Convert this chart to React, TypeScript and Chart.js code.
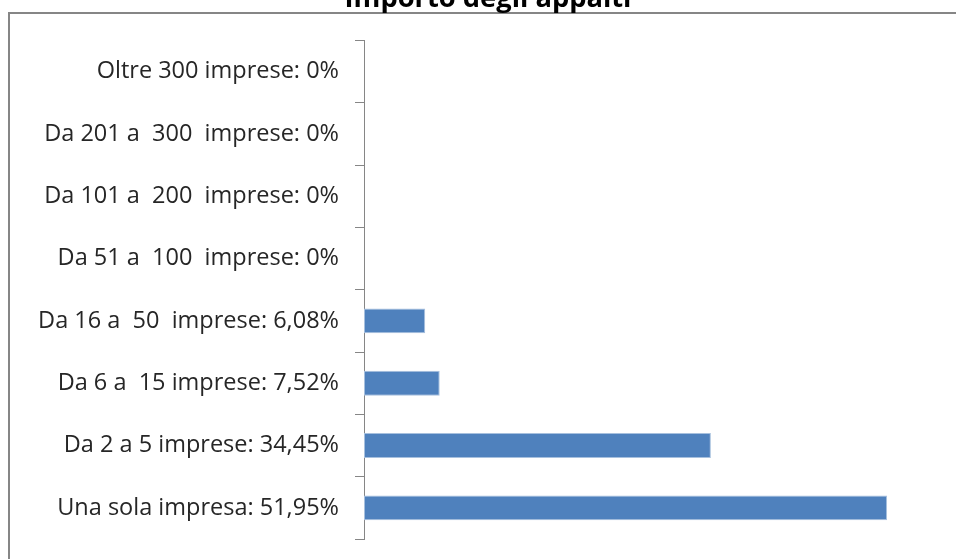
import React, { useEffect, useRef } from "react";
import { Chart, registerables } from "chart.js";

Chart.register(...registerables);

const TITLE = "Importo degli appalti";
const CATEGORIES = [
  "Oltre 300 imprese: 0%",
  "Da 201 a  300  imprese: 0%",
  "Da 101 a  200  imprese: 0%",
  "Da 51 a  100  imprese: 0%",
  "Da 16 a  50  imprese: 6,08%",
  "Da 6 a  15 imprese: 7,52%",
  "Da 2 a 5 imprese: 34,45%",
  "Una sola impresa: 51,95%",
];
const VALUES = [0, 0, 0, 0, 6.08, 7.52, 34.45, 51.95];

const FONT = "'Open Sans', sans-serif";

const framePlugin = {
  id: "frameAndTitle",
  beforeDraw(chart: any) {
    const ctx = chart.ctx;
    ctx.save();
    ctx.fillStyle = "#ffffff";
    ctx.fillRect(0, 0, chart.width, chart.height);
    ctx.strokeStyle = "#868686";
    ctx.lineWidth = 2;
    ctx.strokeRect(9, 13, chart.width + 20, chart.height + 20);
    ctx.restore();
  },
  afterDraw(chart: any) {
    const ctx = chart.ctx;
    ctx.save();
    ctx.fillStyle = "#000000";
    ctx.font = `bold 27.3px ${FONT}`;
    ctx.textAlign = "center";
    ctx.textBaseline = "alphabetic";
    ctx.fillText(TITLE, 488, 7);
    ctx.restore();
  },
};

export default function App() {
  const ref = useRef<HTMLCanvasElement>(null);
  useEffect(() => {
    if (!ref.current) return;
    const chart = new Chart(ref.current, {
      type: "bar",
      data: {
        labels: CATEGORIES,
        datasets: [
          {
            data: VALUES,
            backgroundColor: "#4F81BD",
            borderColor: "#A7C0DE",
            borderWidth: (c: any) => (c.raw > 0 ? 1 : 0),
            borderSkipped: false,
            barPercentage: 0.4,
            categoryPercentage: 1,
          },
        ],
      },
      options: {
        indexAxis: "y",
        animation: false,
        responsive: false,
        maintainAspectRatio: false,
        layout: { padding: { left: 0, right: 8, top: 40.5, bottom: 20 } },
        plugins: {
          legend: { display: false },
          title: { display: false },
          tooltip: { enabled: false },
        },
        scales: {
          x: {
            display: false,
            min: 0,
            max: 58,
          },
          y: {
            afterFit(scale: any) {
              scale.width = 364;
              scale.paddingTop = 0;
              scale.paddingBottom = 0;
            },
            grid: {
              display: true,
              drawOnChartArea: false,
              drawTicks: true,
              tickLength: 9,
              color: "#868686",
              offset: true,
            },
            border: { display: true, color: "#868686", width: 1 },
            ticks: {
              padding: 16,
              color: "#262626",
              font: { family: FONT, size: 23.5 },
            },
          },
        },
      },
      plugins: [framePlugin],
    } as any);
    return () => chart.destroy();
  }, []);
  return (
    <div style={{ position: "absolute", left: 0, top: 0, width: 956, height: 559 }}>
      <canvas ref={ref} width={956} height={559} style={{ display: "block" }} />
    </div>
  );
}
